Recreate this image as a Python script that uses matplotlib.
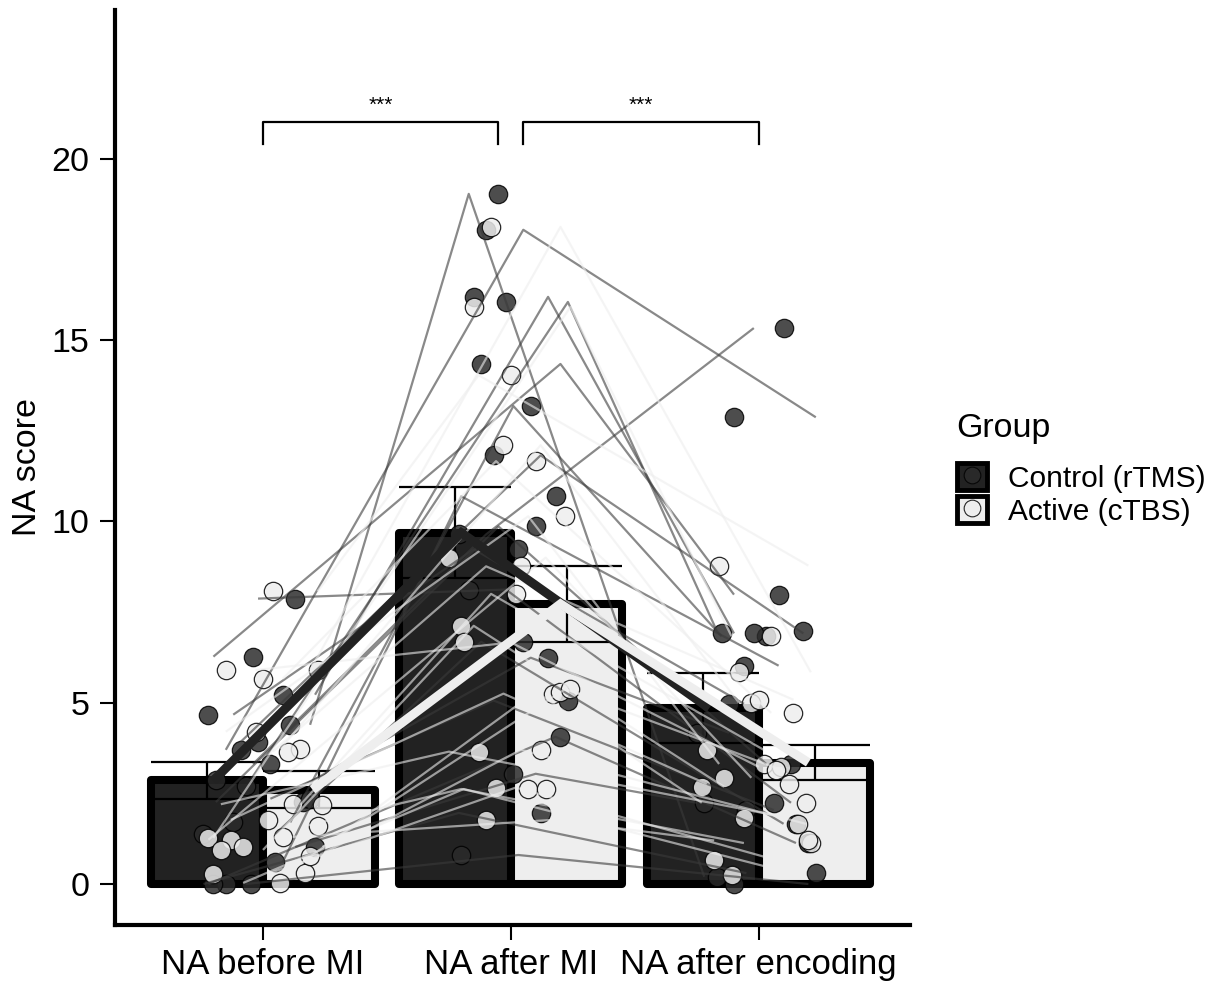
import numpy as np
import matplotlib
matplotlib.use("Agg")
import matplotlib.pyplot as plt
from matplotlib.patches import Patch
from matplotlib.lines import Line2D

# ---------------- data ----------------
conditions = ["NA before MI", "NA after MI", "NA after encoding"]
groups = ["Control (rTMS)", "Active (cTBS)"]

# one entry per subject (same order in each list)
ctrl_before = [4.39, 3.70, 5.22, 2.87, 6.27, 1.70, 3.92, 0.61, 2.26, 3.31,
               4.67, 7.87, 1.38, 2.70, 2.35, 0.00, 1.02, 0.00, 0.00]
ctrl_after_mi = [19.03, 18.04, 16.19, 16.05, 14.34, 13.18, 11.82, 10.69, 9.86, 9.64,
                 9.23, 8.12, 6.68, 6.24, 5.06, 4.06, 3.04, 1.96, 0.80]
ctrl_after_enc = [0.20, 12.87, 6.91, 6.99, 7.98, 6.83, 6.91, 6.02, 3.31, 15.33,
                  4.97, 2.24, 1.66, 4.17, 2.04, 1.13, 2.24, 0.30, 0.00]

act_before = [5.90, 1.27, 8.07, 3.73, 5.66, 4.20, 1.22, 3.65, 2.18, 0.94,
              5.90, 1.77, 0.30, 1.02, 2.20, 0.77, 0.28, 1.60, 0.03, 1.30]
act_after_mi = [18.12, 15.91, 14.03, 12.10, 11.66, 10.14, 9.00, 8.76, 8.00, 7.12,
                6.66, 5.25, 5.30, 5.38, 3.65, 3.70, 2.66, 2.62, 2.62, 1.77]
act_after_enc = [5.84, 6.83, 8.78, 5.00, 4.72, 3.31, 2.93, 5.08, 3.70, 2.68,
                 3.23, 2.76, 2.24, 3.15, 1.82, 1.66, 0.66, 1.13, 0.25, 1.20]

yticks = [0, 5, 10, 15, 20]
sig_pairs = [(0, 1), (1, 2)]
sig_labels = ["***", "***"]
sig_level = 21.0
sig_drop = 0.6

# ---------------- positions / style ----------------
# horizontal jitter of the points (category units)
ctrl_jit = [
    [0.11, -0.09, 0.08, -0.19, -0.04, -0.12, -0.02, 0.05, 0.16, 0.03,
     -0.22, 0.13, -0.24, -0.07, 0.19, -0.15, 0.21, -0.05, -0.20],
    [-0.05, -0.10, -0.15, -0.02, -0.12, 0.08, -0.07, 0.18, 0.10, -0.21,
     0.03, -0.17, 0.05, 0.15, 0.23, 0.20, 0.01, 0.12, -0.20],
    [-0.17, -0.10, -0.15, 0.18, 0.08, 0.03, -0.02, -0.06, 0.13, 0.10,
     -0.12, 0.06, 0.15, -0.25, -0.05, 0.20, -0.22, 0.23, -0.10],
]
act_jit = [
    [-0.15, -0.22, 0.04, 0.15, 0.00, -0.03, -0.13, 0.10, 0.24, -0.17,
     0.22, 0.02, 0.17, -0.08, 0.12, 0.19, -0.20, 0.22, 0.07, 0.08],
    [-0.08, -0.15, 0.00, -0.03, 0.10, 0.22, -0.25, 0.04, 0.02, -0.20,
     -0.19, 0.17, 0.20, 0.24, -0.13, 0.12, -0.06, 0.07, 0.14, -0.10],
    [-0.08, 0.05, -0.16, -0.03, 0.14, 0.02, -0.14, 0.00, -0.21, -0.23,
     0.09, 0.12, 0.19, 0.07, -0.06, 0.16, -0.18, 0.21, -0.11, 0.20],
]

DARK_BAR = "#222222"
LIGHT_BAR = "#eeeeee"
DARK_PT = "#2b2b2b"
LIGHT_PT = "#eeeeee"
FONT = ["Liberation Sans", "DejaVu Sans"]

plt.rcParams["font.family"] = FONT

fig = plt.figure(figsize=(12.12, 9.82), dpi=100)
ax = fig.add_axes([115 / 1212, 57 / 982, (910 - 115) / 1212, (925 - 10) / 982])

xpos = np.arange(1, len(conditions) + 1)
bar_w = 0.45
dodge_bar = [-bar_w / 2, bar_w / 2]
dodge_mean = [-0.2, 0.2]

ctrl = [np.array(ctrl_before), np.array(ctrl_after_mi), np.array(ctrl_after_enc)]
act = [np.array(act_before), np.array(act_after_mi), np.array(act_after_enc)]
group_data = [ctrl, act]
group_jit = [ctrl_jit, act_jit]
bar_fc = [DARK_BAR, LIGHT_BAR]
pt_fc = [DARK_PT, LIGHT_PT]
line_col = ["#3a3a3a", "#eeeeee"]
mean_col = ["#222222", "#eeeeee"]

# bars + error bars
for g in range(2):
    means = np.array([d.mean() for d in group_data[g]])
    ses = np.array([d.std(ddof=1) / np.sqrt(len(d)) for d in group_data[g]])
    bx = xpos + dodge_bar[g]
    bars = ax.bar(bx, means, width=bar_w, color=bar_fc[g], edgecolor="black",
                  linewidth=5.8, zorder=1)
    for b in bars:
        b.set_joinstyle("round")
    ax.vlines(bx, means - ses, means + ses, color="black", lw=1.6, zorder=2)
    ax.hlines(means + ses, bx - bar_w / 2, bx + bar_w / 2, color="black", lw=1.6, zorder=2)
    ax.hlines(means - ses, bx - bar_w / 2, bx + bar_w / 2, color="black", lw=1.6, zorder=2)

# points
for g in range(2):
    for c in range(3):
        vals = group_data[g][c]
        xs = xpos[c] + np.array(group_jit[g][c])
        ax.scatter(xs, vals, s=175, facecolor=pt_fc[g], edgecolor="black",
                   linewidth=0.9, alpha=0.84, zorder=3)

# subject lines (own jitter, as in the original)
shifts = [5, 8, 3]
for g in range(2):
    n = len(group_data[g][0])
    line_x = np.vstack([xpos[c] + np.roll(np.array(group_jit[g][c]), shifts[c]) for c in range(3)])
    line_y = np.vstack([group_data[g][c] for c in range(3)])
    for i in range(n):
        ax.plot(line_x[:, i], line_y[:, i], color=line_col[g], lw=1.6,
                alpha=0.6, zorder=4, solid_capstyle="butt")

# mean lines
for g in range(2):
    means = [d.mean() for d in group_data[g]]
    ax.plot(xpos + dodge_mean[g], means, color=mean_col[g], lw=6.5, zorder=5,
            solid_capstyle="butt", solid_joinstyle="miter")

# significance brackets
for (a, b), lab in zip(sig_pairs, sig_labels):
    x0 = xpos[a] + (0.0 if a == 0 else 0.05)
    x1 = xpos[b] - (0.05 if b == 1 else 0.0)
    ax.plot([x0, x0, x1, x1], [sig_level - sig_drop, sig_level, sig_level, sig_level - sig_drop],
            color="black", lw=1.6, zorder=6, clip_on=False)
    ax.text((x0 + x1) / 2, sig_level + 0.2, lab, ha="center", va="bottom", fontsize=15, zorder=6)

ax.set_xlim(0.403, 3.61)
ax.set_ylim(-1.13, 24.1)
ax.set_xticks(xpos)
ax.set_xticklabels(conditions, fontsize=25)
ax.set_yticks(yticks)
ax.set_yticklabels([str(t) for t in yticks], fontsize=24.5)
ax.set_ylabel("NA score", fontsize=24.5, labelpad=6)
for s in ["top", "right"]:
    ax.spines[s].set_visible(False)
for s in ["left", "bottom"]:
    ax.spines[s].set_linewidth(3.0)
    ax.spines[s].set_color("black")
ax.tick_params(axis="both", length=10.5, width=1.5, color="black", pad=6)
ax.tick_params(axis="y", pad=8)

# legend
fig.text(956 / 1212, 1 - 428 / 982, "Group", fontsize=24.5, ha="left", va="center")
handles = []
for g in range(2):
    handles.append((Patch(facecolor=bar_fc[g], edgecolor="black", linewidth=3.5),
                    Line2D([], [], ls="none", marker="o", markersize=12,
                           markerfacecolor=pt_fc[g], markeredgecolor="black",
                           markeredgewidth=0.8, alpha=0.84)))
leg = fig.legend(handles, groups, loc="upper left",
                 bbox_to_anchor=(957 / 1212, 1 - 463 / 982), frameon=False,
                 fontsize=21.5,
                 handlelength=1.0, handleheight=1.0, handletextpad=0.7,
                 labelspacing=0.12, borderpad=0.0, borderaxespad=0.0)

fig.savefig("out.png", dpi=100)
